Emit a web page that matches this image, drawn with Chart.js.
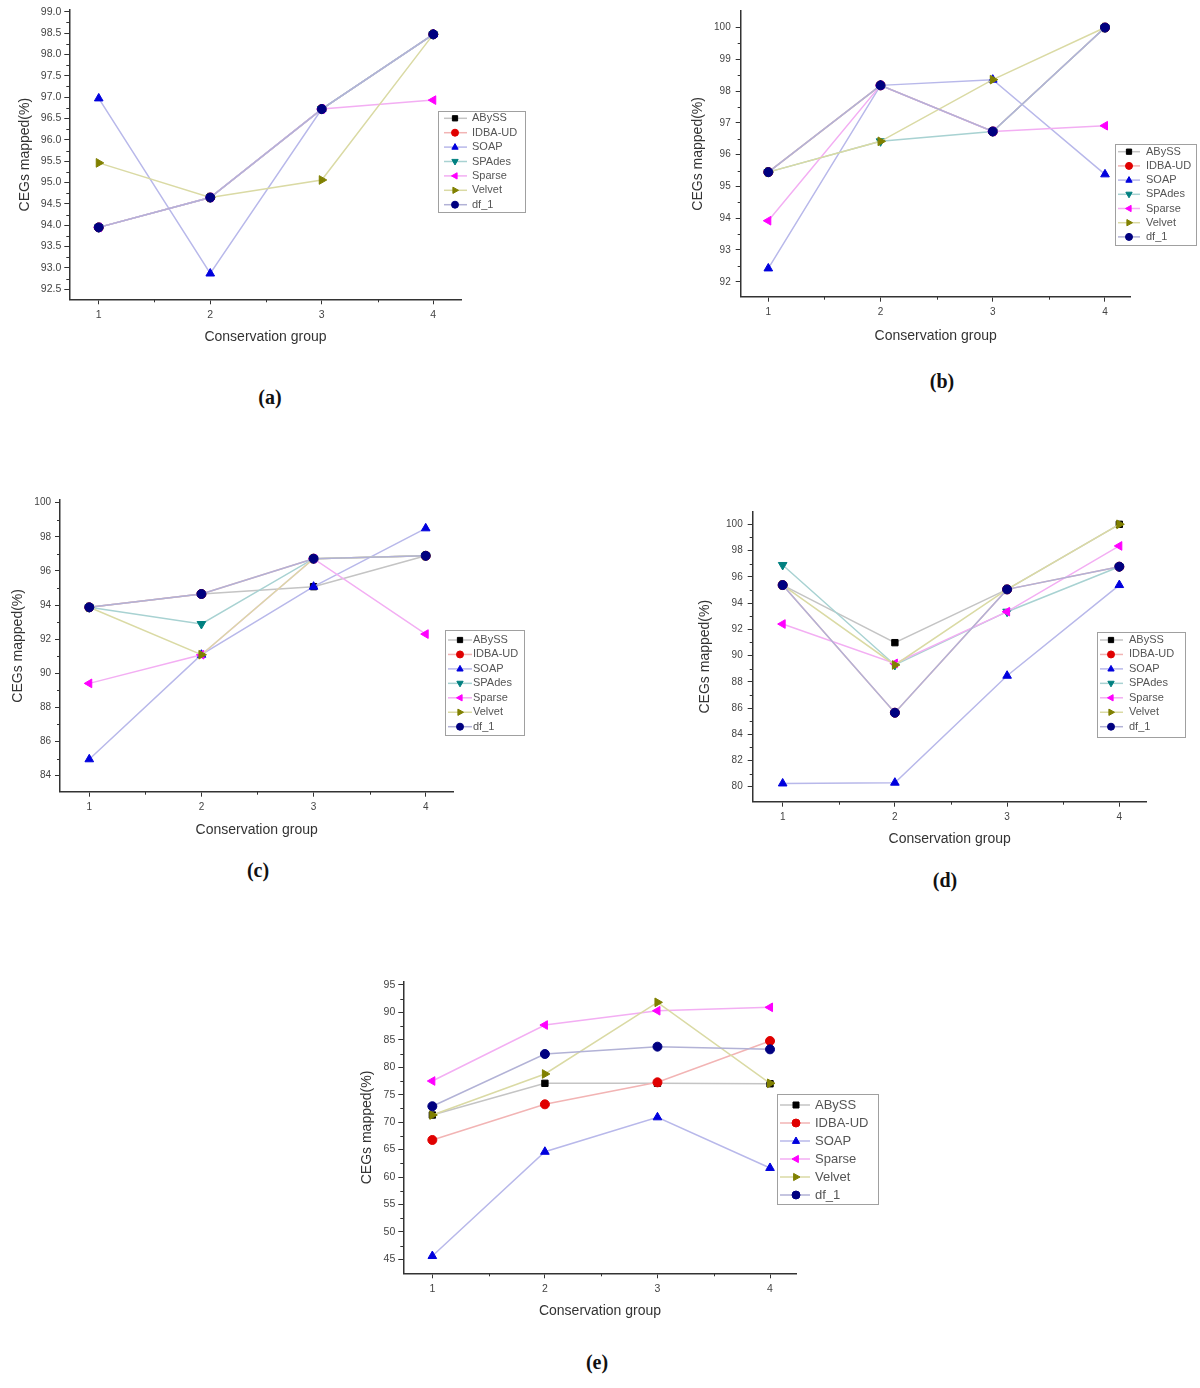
<!DOCTYPE html>
<html>
<head>
<meta charset="utf-8">
<script src="https://cdn.jsdelivr.net/npm/chart.js@4.4.1/dist/chart.umd.min.js"></script>
<style>
html,body{margin:0;padding:0;background:#fff;}
body{width:1200px;height:1388px;position:relative;overflow:hidden;}
.cap{position:absolute;font-family:"Liberation Serif","DejaVu Serif",serif;font-weight:bold;font-size:20px;color:#111;transform:translate(-50%,-50%);white-space:nowrap;}
</style>
</head>
<body>
<div class="cap" style="left:270px;top:397px;">(a)</div>
<div class="cap" style="left:942px;top:381px;">(b)</div>
<div class="cap" style="left:258px;top:870px;">(c)</div>
<div class="cap" style="left:945px;top:880px;">(d)</div>
<div class="cap" style="left:597px;top:1362px;">(e)</div>
<script>
// ---------------- DATA ----------------
const categories = [1, 2, 3, 4];
const xTickValues = [1, 2, 3, 4];
const namesFull = ['ABySS', 'IDBA-UD', 'SOAP', 'SPAdes', 'Sparse', 'Velvet', 'df_1'];
const namesE = ['ABySS', 'IDBA-UD', 'SOAP', 'Sparse', 'Velvet', 'df_1'];
const xTitle = 'Conservation group';
const yTitle = 'CEGs mapped(%)';

// (a)
const aABySS  = [93.95, 94.65, 96.72, 98.47];
const aIDBAUD = [93.95, 94.65, 96.72, 98.47];
const aSOAP   = [96.97, 92.87, 96.72, 98.47];
const aSPAdes = [93.95, 94.65, 96.72, 98.47];
const aSparse = [93.95, 94.65, 96.72, 96.93];
const aVelvet = [95.46, 94.65, 95.06, 98.47];
const aDf1    = [93.95, 94.65, 96.72, 98.47];
const aYTicks = [92.5, 93.0, 93.5, 94.0, 94.5, 95.0, 95.5, 96.0, 96.5, 97.0, 97.5, 98.0, 98.5, 99.0];

// (b)
const bABySS  = [95.45, 98.18, 96.73, 100];
const bIDBAUD = [95.45, 98.18, 96.73, 100];
const bSOAP   = [92.42, 98.18, 98.36, 95.38];
const bSPAdes = [95.45, 96.42, 96.73, 100];
const bSparse = [93.92, 98.18, 96.73, 96.91];
const bVelvet = [95.45, 96.42, 98.36, 100];
const bDf1    = [95.45, 98.18, 96.73, 100];
const bYTicks = [92, 93, 94, 95, 96, 97, 98, 99, 100];

// (c)
const cABySS  = [93.87, 94.65, 95.08, 96.89];
const cIDBAUD = [93.87, 94.65, 96.72, 96.89];
const cSOAP   = [84.96, 91.09, 95.08, 98.50];
const cSPAdes = [93.87, 92.89, 96.72, 96.89];
const cSparse = [89.41, 91.09, 96.72, 92.30];
const cVelvet = [93.87, 91.09, 96.72, 96.89];
const cDf1    = [93.87, 94.65, 96.72, 96.89];
const cYTicks = [84, 86, 88, 90, 92, 94, 96, 98, 100];

// (d)
const dABySS  = [95.37, 90.98, 95.04, 100];
const dIDBAUD = [95.37, 85.64, 95.04, 96.77];
const dSOAP   = [80.25, 80.31, 88.46, 95.37];
const dSPAdes = [96.90, 89.28, 93.34, 96.77];
const dSparse = [92.40, 89.40, 93.34, 98.35];
const dVelvet = [95.37, 89.28, 95.04, 100];
const dDf1    = [95.37, 85.64, 95.04, 96.77];
const dYTicks = [80, 82, 84, 86, 88, 90, 92, 94, 96, 98, 100];

// (e)
const eABySS  = [71.30, 77.08, 77.10, 77.00];
const eIDBAUD = [66.75, 73.25, 77.26, 84.79];
const eSOAP   = [45.60, 64.60, 70.88, 61.65];
const eSparse = [77.50, 87.70, 90.30, 90.93];
const eVelvet = [71.30, 78.78, 91.84, 77.08];
const eDf1    = [72.90, 82.42, 83.76, 83.27];
const eYTicks = [45, 50, 55, 60, 65, 70, 75, 80, 85, 90, 95];

// ---------------- STYLE ----------------
const seriesStyle = {
  'ABySS':   {shape: 'rect',     rot: 0,   fill: '#000000', line: '#c4c4c4'},
  'IDBA-UD': {shape: 'circle',   rot: 0,   fill: '#e00000', line: '#f2b4b4'},
  'SOAP':    {shape: 'triangle', rot: 0,   fill: '#0000dd', line: '#b8b8ea'},
  'SPAdes':  {shape: 'triangle', rot: 180, fill: '#008080', line: '#a8d2d2'},
  'Sparse':  {shape: 'triangle', rot: 270, fill: '#ff00ff', line: '#f3aef3'},
  'Velvet':  {shape: 'triangle', rot: 90,  fill: '#808000', line: '#dadaa4'},
  'df_1':    {shape: 'circle',   rot: 0,   fill: '#000080', line: '#b2b2d6'}
};

const FONT = '"Liberation Sans", Arial, sans-serif';

const panels = [
  {box: {x: 0, y: 0, w: 600, h: 360}, area: {l: 69.3, t: 10, r: 461.7, b: 299.3},
   xRange: [0.736, 4.255], yRange: [92.266, 99.04], yTitleX: 25, xTitleY: 337,
   yTicks: aYTicks, dec: 1, tickFs: 10.5, tickPad: 3, names: namesFull,
   values: [aABySS, aIDBAUD, aSOAP, aSPAdes, aSparse, aVelvet, aDf1],
   legend: {x: 438, y: 111, w: 87, h: 101, row0: 118.3, rowH: 14.4, l0: 6, l1: 29, mx: 17, tx: 34, fs: 11, mr: 3.5}},
  {box: {x: 600, y: 0, w: 600, h: 360}, area: {l: 740.7, t: 8.3, r: 1130.7, b: 296.7},
   xRange: [0.754, 4.229], yRange: [91.53, 100.52], yTitleX: 698.5, xTitleY: 336,
   yTicks: bYTicks, dec: 0, tickFs: 10, tickPad: 5, names: namesFull,
   values: [bABySS, bIDBAUD, bSOAP, bSPAdes, bSparse, bVelvet, bDf1],
   legend: {x: 1115, y: 144, w: 81, h: 101, row0: 151.7, rowH: 14.2, l0: 3, l1: 25, mx: 14, tx: 31, fs: 11, mr: 3.5}},
  {box: {x: 0, y: 480, w: 600, h: 380}, area: {l: 60, t: 500, r: 453.3, b: 791.7},
   xRange: [0.739, 4.246], yRange: [83.06, 100.16], yTitleX: 18.3, xTitleY: 830,
   yTicks: cYTicks, dec: 0, tickFs: 10, tickPad: 4, names: namesFull,
   values: [cABySS, cIDBAUD, cSOAP, cSPAdes, cSparse, cVelvet, cDf1],
   legend: {x: 445, y: 630, w: 79, h: 105, row0: 640, rowH: 14.45, l0: 3, l1: 27, mx: 15, tx: 28, fs: 11, mr: 3.5}},
  {box: {x: 600, y: 480, w: 600, h: 380}, area: {l: 752.7, t: 511.7, r: 1146.7, b: 801.7},
   xRange: [0.733, 4.244], yRange: [78.86, 100.96], yTitleX: 705, xTitleY: 839.3,
   yTicks: dYTicks, dec: 0, tickFs: 10, tickPad: 5, names: namesFull,
   values: [dABySS, dIDBAUD, dSOAP, dSPAdes, dSparse, dVelvet, dDf1],
   legend: {x: 1097, y: 632, w: 88, h: 105, row0: 640, rowH: 14.45, l0: 3, l1: 26, mx: 14, tx: 32, fs: 11, mr: 3.5}},
  {box: {x: 330, y: 960, w: 600, h: 380}, area: {l: 403.3, t: 981.7, r: 796.7, b: 1273.3},
   xRange: [0.742, 4.237], yRange: [42.45, 95.6], yTitleX: 367.3, xTitleY: 1310.7,
   yTicks: eYTicks, dec: 0, tickFs: 10.5, tickPad: 3, names: namesE,
   values: [eABySS, eIDBAUD, eSOAP, eSparse, eVelvet, eDf1],
   legend: {x: 777, y: 1094, w: 101, h: 110, row0: 1105, rowH: 18, l0: 3, l1: 33, mx: 19, tx: 38, fs: 13, mr: 4}}
];

function drawMarker(ctx, s, x, y, r) {
  ctx.save();
  ctx.translate(x, y);
  ctx.rotate(s.rot * Math.PI / 180);
  ctx.fillStyle = s.fill;
  ctx.strokeStyle = s.fill;
  ctx.lineWidth = 1;
  ctx.beginPath();
  if (s.shape === 'rect') {
    ctx.rect(-r * 0.75, -r * 0.75, r * 1.5, r * 1.5);
  } else if (s.shape === 'circle') {
    ctx.arc(0, 0, r, 0, Math.PI * 2);
  } else {
    ctx.moveTo(0, -r);
    ctx.lineTo(r * 0.9, r * 0.6);
    ctx.lineTo(-r * 0.9, r * 0.6);
    ctx.closePath();
  }
  ctx.fill();
  ctx.stroke();
  ctx.restore();
}

function buildPanel(p) {
  const cv = document.createElement('canvas');
  cv.width = p.box.w;
  cv.height = p.box.h;
  cv.style.cssText = 'position:absolute;left:' + p.box.x + 'px;top:' + p.box.y + 'px;width:' + p.box.w + 'px;height:' + p.box.h + 'px;';
  document.body.appendChild(cv);

  const TFS = 14, LH = TFS * 1.2, TP = 4;
  const half = TP + LH / 2;
  const padL = p.yTitleX - p.box.x - half;
  const yW = p.area.l - p.box.x - padL;
  const xH = p.xTitleY - p.area.b + half;
  const padB = p.box.y + p.box.h - p.area.b - xH;
  const padT = p.area.t - p.box.y;
  const padR = p.box.x + p.box.w - p.area.r;

  const n = p.names.length;
  const datasets = p.names.map((name, i) => {
    const s = seriesStyle[name];
    return {
      label: name,
      data: categories.map((c, k) => ({x: c, y: p.values[i][k]})),
      borderColor: s.line,
      borderWidth: 1.5,
      backgroundColor: s.fill,
      pointStyle: s.shape,
      pointRotation: s.rot,
      pointRadius: s.shape === 'triangle' ? 5 : 4.5,
      pointBackgroundColor: s.fill,
      pointBorderColor: s.fill,
      pointBorderWidth: 1,
      tension: 0,
      fill: false,
      clip: false,
      order: n - 1 - i
    };
  });

  const minorPlugin = {
    id: 'minorTicks',
    afterDraw(chart) {
      const ctx = chart.ctx, xs = chart.scales.x, ys = chart.scales.y;
      const ca = chart.chartArea;
      ctx.save();
      ctx.strokeStyle = '#333';
      ctx.lineWidth = 1;
      ctx.beginPath();
      for (let i = 0; i < p.yTicks.length - 1; i++) {
        const py = Math.round(ys.getPixelForValue((p.yTicks[i] + p.yTicks[i + 1]) / 2)) + 0.5;
        ctx.moveTo(ca.left - 3, py); ctx.lineTo(ca.left, py);
      }
      for (let i = 0; i < xTickValues.length - 1; i++) {
        const px = Math.round(xs.getPixelForValue((xTickValues[i] + xTickValues[i + 1]) / 2)) + 0.5;
        ctx.moveTo(px, ca.bottom); ctx.lineTo(px, ca.bottom + 3);
      }
      ctx.stroke();
      ctx.restore();
    }
  };

  const L = p.legend;
  const legendPlugin = {
    id: 'boxLegend',
    afterDraw(chart) {
      const ctx = chart.ctx;
      ctx.save();
      const x = L.x - p.box.x, y = L.y - p.box.y;
      ctx.fillStyle = '#ffffff';
      ctx.fillRect(x, y, L.w, L.h);
      ctx.strokeStyle = '#a0a0a0';
      ctx.lineWidth = 1;
      ctx.strokeRect(x + 0.5, y + 0.5, L.w, L.h);
      ctx.font = L.fs + 'px ' + FONT;
      ctx.textBaseline = 'middle';
      ctx.textAlign = 'left';
      p.names.forEach((name, i) => {
        const s = seriesStyle[name];
        const ry = L.row0 - p.box.y + i * L.rowH;
        ctx.strokeStyle = s.line;
        ctx.lineWidth = 1.5;
        ctx.beginPath();
        ctx.moveTo(x + L.l0, ry); ctx.lineTo(x + L.l1, ry);
        ctx.stroke();
        drawMarker(ctx, s, x + L.mx, ry, L.mr);
        ctx.fillStyle = '#555555';
        ctx.fillText(name, x + L.tx, ry);
      });
      ctx.restore();
    }
  };

  new Chart(cv, {
    type: 'line',
    data: {datasets},
    options: {
      responsive: false,
      animation: false,
      devicePixelRatio: 1,
      layout: {padding: {left: padL, right: padR, top: padT, bottom: padB}},
      plugins: {legend: {display: false}, tooltip: {enabled: false}, title: {display: false}},
      scales: {
        x: {
          type: 'linear',
          min: p.xRange[0], max: p.xRange[1],
          afterBuildTicks: (sc) => { sc.ticks = xTickValues.map(v => ({value: v})); },
          afterFit: (sc) => { sc.height = xH; },
          ticks: {color: '#444', font: {family: FONT, size: p.tickFs}, padding: 5, maxRotation: 0,
                  callback: (v) => String(v)},
          grid: {drawOnChartArea: false, drawTicks: true, tickLength: 5, color: '#333', tickColor: '#333'},
          border: {display: true, color: '#333', width: 1.5},
          title: {display: true, text: xTitle, color: '#333', font: {family: FONT, size: TFS}, padding: {top: TP, bottom: TP}}
        },
        y: {
          type: 'linear',
          min: p.yRange[0], max: p.yRange[1],
          afterBuildTicks: (sc) => { sc.ticks = p.yTicks.map(v => ({value: v})); },
          afterFit: (sc) => { sc.width = yW; },
          ticks: {color: '#444', font: {family: FONT, size: p.tickFs}, padding: p.tickPad,
                  callback: (v) => Number(v).toFixed(p.dec)},
          grid: {drawOnChartArea: false, drawTicks: true, tickLength: 5, color: '#333', tickColor: '#333'},
          border: {display: true, color: '#333', width: 1.5},
          title: {display: true, text: yTitle, color: '#333', font: {family: FONT, size: TFS}, padding: {top: TP, bottom: TP}}
        }
      }
    },
    plugins: [minorPlugin, legendPlugin]
  });
}

panels.forEach(buildPanel);
</script>
</body>
</html>
